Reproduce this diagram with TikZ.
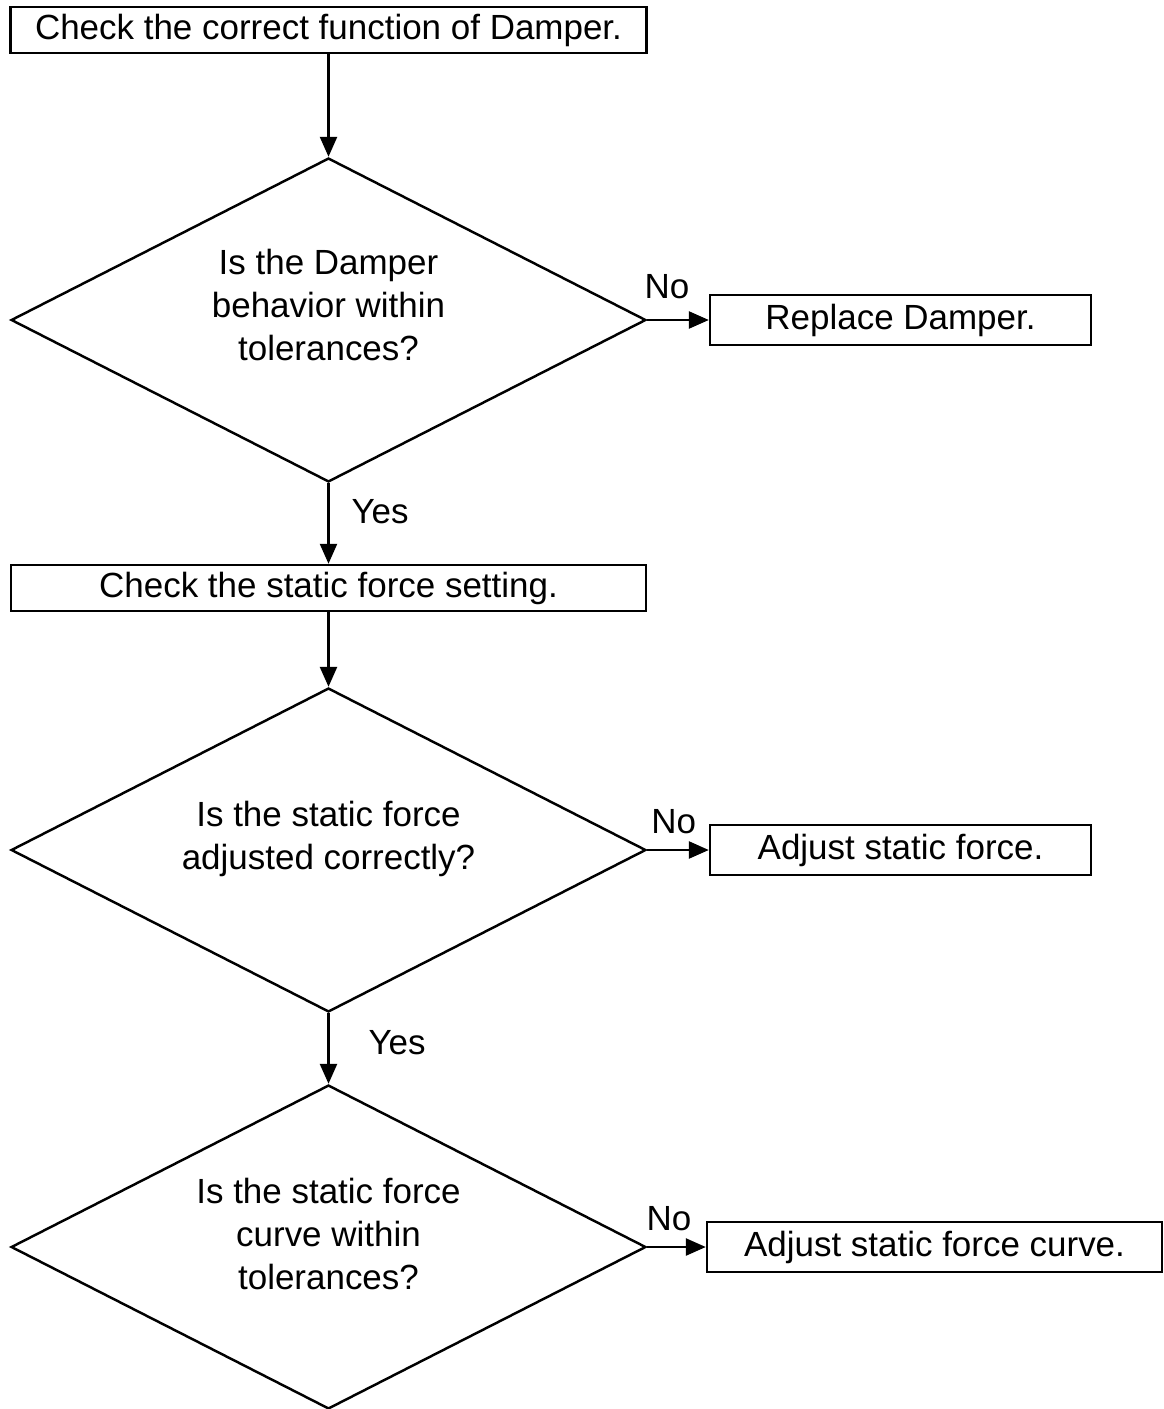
\documentclass[tikz,border=0pt]{standalone}
\usepackage{fontspec}
\setmainfont{Liberation Sans}
\usetikzlibrary{shapes.geometric, arrows.meta}

\begin{document}
\begin{tikzpicture}[x=0.02cm, y=-0.02cm, line width=1.4pt,
	font=\fontsize{19.9}{24.4}\selectfont,
	box/.style={draw, rectangle, inner sep=0},
	dec/.style={draw, diamond, aspect=1.96, inner sep=0, minimum width=12.7cm, minimum height=6.48cm},
	arr/.style={-{Triangle[length=0.4cm, width=0.34cm]}}]
	\useasboundingbox (0, 0) rectangle (1163, 1409);
	
	% main column
	\node[box, minimum width=12.72cm, minimum height=0.92cm] (chkdamper) at (328.5, 30) {Check the correct function of Damper.};
	\node[dec] (qdamper) at (328.5, 320) {};
	\node[align=center] (tdamper) at (328.5, 305) {Is the Damper\\behavior within\\tolerances?};
	\node[box, minimum width=12.7cm, minimum height=0.92cm] (chkstatic) at (328.5, 588) {Check the static force setting.};
	\node[dec] (qstatic) at (328.5, 850) {};
	\node[align=center] (tstatic) at (328.5, 839) {Is the static force\\adjusted correctly?};
	\node[dec] (qcurve) at (328.5, 1247) {};
	\node[align=center] (tcurve) at (328.5, 1234) {Is the static force\\curve within\\tolerances?};
	
	% actions
	\node[box, minimum width=7.62cm, minimum height=1cm] (replace) at (900.5, 320) {Replace Damper.};
	\node[box, minimum width=7.62cm, minimum height=1cm] (adjforce) at (900.5, 850) {Adjust static force.};
	\node[box, minimum width=9.1cm, minimum height=1cm] (adjcurve) at (934.5, 1247) {Adjust static force curve.};
	
	% connectors
	\draw[arr] (chkdamper) -- (qdamper);
	\draw[arr] (qdamper) -- node[right=0.32cm, pos=0.35] {Yes} (chkstatic);
	\draw[arr] (chkstatic) -- (qstatic);
	\draw[arr] (qstatic) -- node[right=0.66cm, pos=0.41] {Yes} (qcurve);
	\draw[arr] (qdamper.east) -- node[above=0.28cm, pos=0.32] {No} (replace.west);
	\draw[arr] (qstatic.east) -- node[above=0.18cm, pos=0.43] {No} (adjforce.west);
	\draw[arr] (qcurve.east) -- node[above=0.18cm, pos=0.37] {No} (adjcurve.west);
\end{tikzpicture}
\end{document}
